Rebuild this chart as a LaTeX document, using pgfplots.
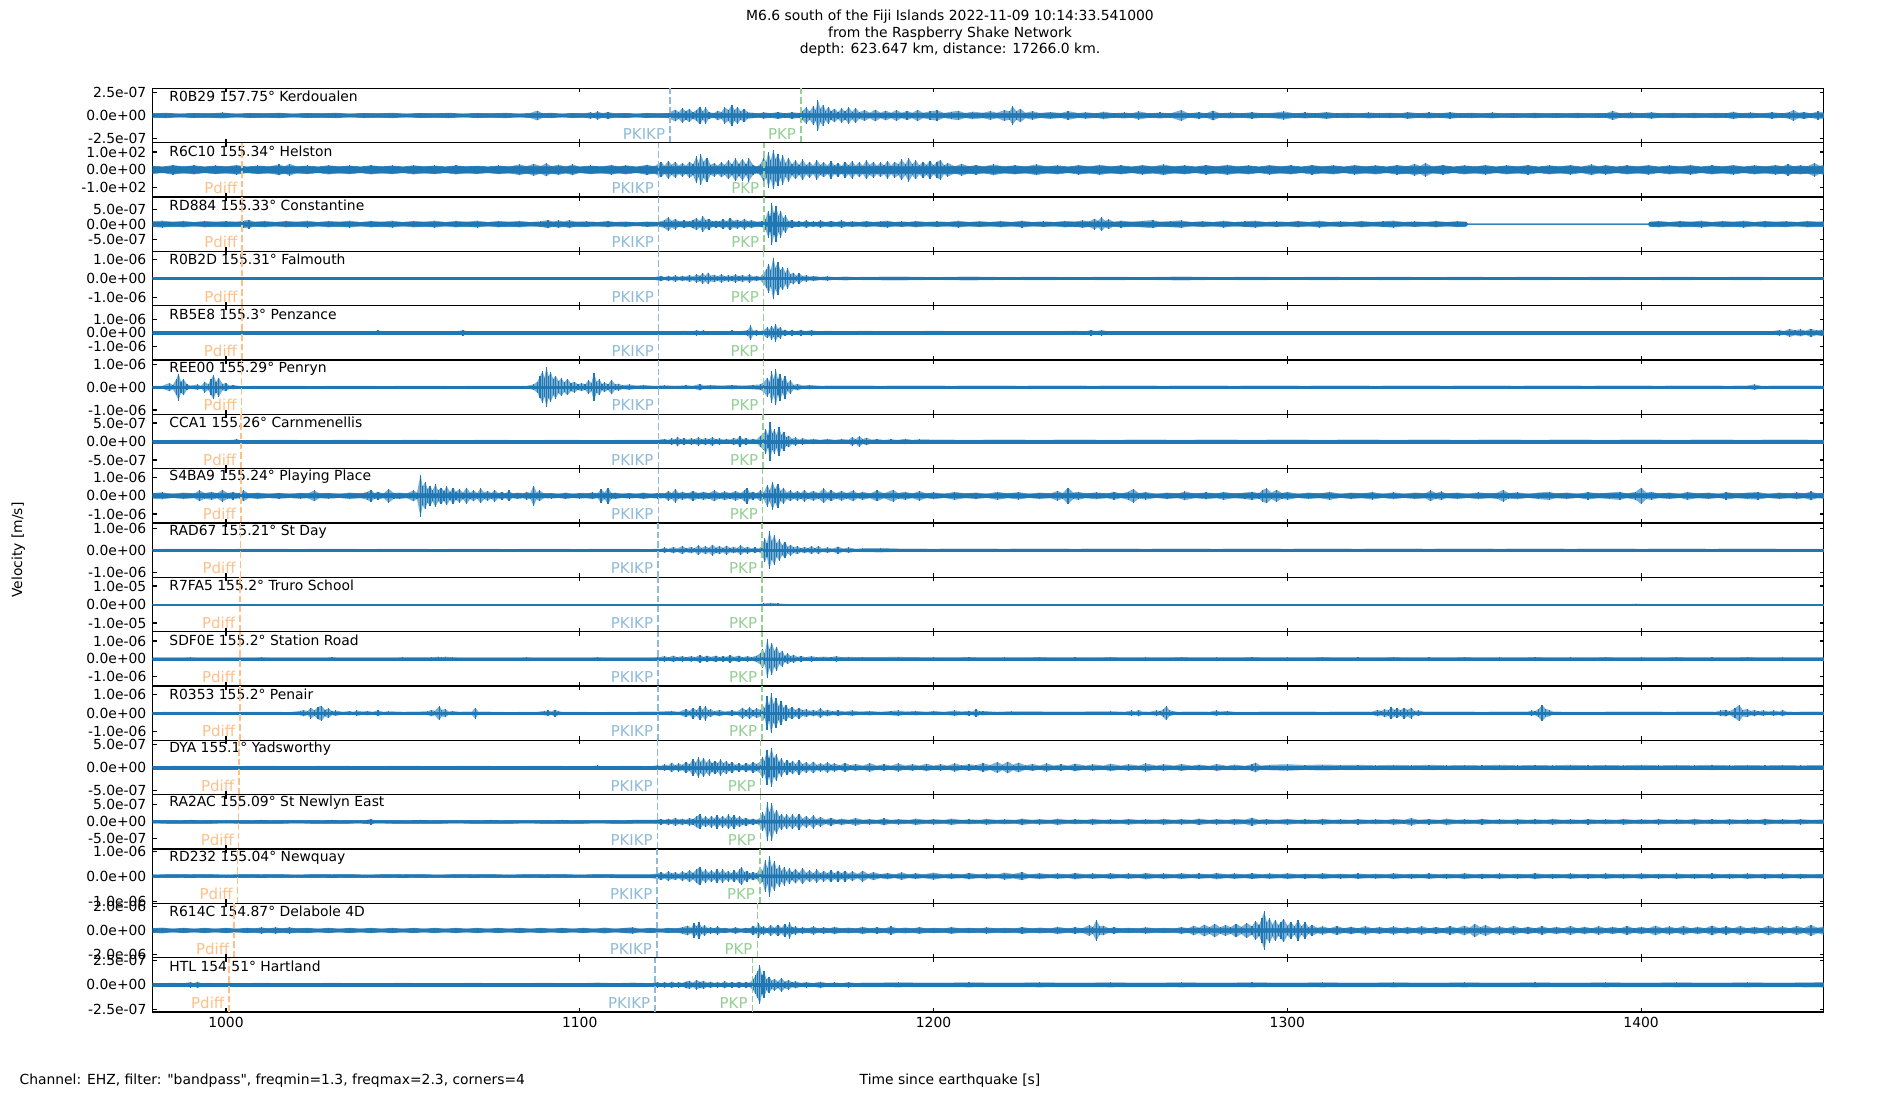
\documentclass[border=0pt]{standalone}
\usepackage{fontspec}
\setmainfont{DejaVu Sans}[Ligatures=TeXOff]
\usepackage{pgfplots}
\pgfplotsset{compat=1.18}
\usepackage{pgfplotstable}
\definecolor{c0}{HTML}{1F77B4}
\definecolor{cpd}{HTML}{FFBF86}
\definecolor{cpi}{HTML}{8FBBD9}
\definecolor{cpk}{HTML}{95CF95}
\newcommand{\fs}{\fontsize{10bp}{12bp}\selectfont}
\pgfplotsset{
  panel/.style={scale only axis, width=1203.3bp, height=39.12bp, anchor=south west,
    xmin=979.28, xmax=1451.64, ymin=-1, ymax=1,
    xtick={1000,1100,1200,1300,1400}, xticklabels={},
    tick align=inside, major tick length=2.9bp,
    axis line style={line width=0.8bp}, tick style={black, line width=0.8bp},
    ticklabel style={font=\fs}, yticklabel style={xshift=-1bp}, clip=true},
  panelextra/.style={},
}
\tikzset{phl/.style={anchor=east, inner sep=0pt, xshift=-3.3bp, font=\fontsize{10.8bp}{13bp}\selectfont},
  phd/.style={line width=1.1bp, dash pattern=on 4.8bp off 2.2bp}}
\newcommand{\panel}[9]{%
\begin{axis}[panel, at={(109.9bp,{63.36bp+(17-#1)*39.12bp})}, ytick={-#3,0,#3}, yticklabels={{-#4},{0.0e+00},{#4}}, panelextra]
\addplot[draw=none, fill=c0, fill opacity=0.6] table[x=t,y=a]{#2} \closedcycle;
\addplot[draw=none, fill=c0, fill opacity=0.6] table[x=t,y expr=-\thisrow{a}]{#2} \closedcycle;
\addplot[c0, line width=0.9bp, ycomb] table[x=t,y=a]{#2};
\addplot[c0, line width=0.9bp, ycomb] table[x=t,y expr=-\thisrow{a}]{#2};
\addplot[fill=c0, draw=c0, line width=0.3bp] table[x=t,y expr={min(\thisrow{a},#9)}]{#2} \closedcycle;
\addplot[fill=c0, draw=c0, line width=0.3bp] table[x=t,y expr={-min(\thisrow{a},#9)}]{#2} \closedcycle;
\node[anchor=west, inner sep=0pt, font=\fs] at (rel axis cs:0.0099,0.845) {#5};
\ifx\relax#6\relax\else
\draw[cpd, phd] (axis cs:#6,-1) -- (axis cs:#6,1);
\node[phl, text=cpd] at (axis cs:#6,-0.67) {Pdiff};
\fi
\draw[cpi, phd] (axis cs:#7,-1) -- (axis cs:#7,1);
\node[phl, text=cpi] at (axis cs:#7,-0.67) {PKIKP};
\draw[cpk, phd] (axis cs:#8,-1) -- (axis cs:#8,1);
\node[phl, text=cpk] at (axis cs:#8,-0.67) {PKP};
\end{axis}}

\pgfplotstableread[row sep=\\]{t a\\979 .07\\983 .1\\987 .06\\991 .09\\995 .07\\999 .11\\1003 .06\\1007 .09\\1011 .07\\1015 .1\\1019 .06\\1023 .09\\1027 .07\\1031 .1\\1035 .06\\1039 .09\\1043 .07\\1047 .1\\1051 .06\\1055 .09\\1059 .07\\1063 .1\\1067 .06\\1071 .09\\1075 .07\\1079 .1\\1083 .06\\1086 .09\\1088 .18\\1089.5 .08\\1092 .1\\1095 .06\\1098 .09\\1101 .07\\1103 .12\\1104 .08\\1105 .15\\1106.5 .08\\1108 .13\\1110 .07\\1113 .09\\1116 .06\\1119 .09\\1122 .07\\1125 .09\\1127 .22\\1128 .12\\1129 .28\\1130 .15\\1131 .25\\1132 .12\\1133 .2\\1134 .33\\1134.8 .15\\1135.6 .3\\1136.5 .12\\1138 .09\\1139 .18\\1140 .12\\1141 .3\\1142 .2\\1143 .38\\1143.8 .2\\1144.6 .32\\1145.5 .15\\1146.4 .25\\1147.5 .12\\1149 .1\\1150.5 .07\\1152 .12\\1154 .08\\1156 .13\\1158 .08\\1160 .12\\1162 .09\\1163 .18\\1164 .3\\1165 .15\\1166 .35\\1166.7 .2\\1167.3 .58\\1168 .25\\1168.8 .4\\1169.5 .18\\1170.3 .33\\1171 .15\\1172 .25\\1173 .12\\1174 .26\\1175 .15\\1176 .3\\1177 .14\\1178 .28\\1179 .12\\1180.5 .2\\1182 .1\\1183.5 .22\\1185 .1\\1186.5 .18\\1188 .1\\1189.5 .2\\1191 .1\\1192.5 .17\\1194 .1\\1195.5 .21\\1197 .1\\1199 .15\\1201 .19\\1203 .09\\1205 .14\\1207 .17\\1209 .09\\1211 .14\\1214 .1\\1216 .16\\1218 .1\\1220 .2\\1221.5 .15\\1222.3 .34\\1223.5 .15\\1224.5 .25\\1226 .1\\1228 .16\\1230 .09\\1233 .13\\1236 .09\\1238 .16\\1241 .09\\1243 .12\\1246 .08\\1248 .14\\1251 .08\\1254 .11\\1256 .08\\1258 .15\\1261 .08\\1264 .11\\1267 .08\\1270 .2\\1272 .08\\1275 .12\\1277 .08\\1279 .18\\1281 .08\\1284 .11\\1287 .08\\1290 .12\\1293 .08\\1296 .1\\1299 .15\\1302 .08\\1305 .11\\1308 .08\\1311 .13\\1314 .08\\1317 .1\\1320 .07\\1323 .11\\1326 .08\\1329 .1\\1332 .07\\1334 .13\\1337 .08\\1340 .11\\1343 .08\\1346 .12\\1349 .08\\1352 .1\\1355 .07\\1358 .11\\1361 .07\\1364 .09\\1367 .07\\1370 .1\\1373 .07\\1376 .09\\1379 .07\\1382 .1\\1385 .07\\1388 .09\\1390 .08\\1392 .17\\1394 .08\\1397 .11\\1400 .08\\1403 .12\\1406 .07\\1409 .1\\1412 .07\\1415 .1\\1418 .07\\1421 .1\\1424 .08\\1426 .14\\1428 .08\\1431 .11\\1434 .07\\1437 .12\\1440 .08\\1442 .13\\1443 .2\\1444.5 .1\\1446 .13\\1448 .08\\1450 .15\\1452 .1\\}\dA
\pgfplotstableread[row sep=\\]{t a\\979 .15\\982 .11\\985 .18\\988 .12\\991 .17\\994 .11\\997 .16\\1000 .12\\1003 .18\\1006 .11\\1009 .16\\1012 .12\\1015 .2\\1016.5 .13\\1018 .22\\1020 .12\\1023 .16\\1026 .11\\1029 .17\\1032 .12\\1035 .16\\1038 .11\\1041 .17\\1044 .12\\1047 .16\\1050 .11\\1053 .17\\1056 .12\\1059 .16\\1062 .11\\1065 .17\\1068 .12\\1071 .15\\1074 .11\\1077 .16\\1080 .12\\1083 .2\\1085 .13\\1087 .22\\1089 .14\\1090.5 .24\\1092 .13\\1094 .19\\1096 .12\\1098 .2\\1100 .11\\1103 .16\\1106 .12\\1109 .18\\1111 .12\\1113 .17\\1116 .11\\1119 .19\\1121 .13\\1123 .28\\1124 .15\\1125 .33\\1126 .18\\1127 .3\\1128 .15\\1129 .25\\1130 .15\\1131 .3\\1132 .2\\1133 .5\\1133.6 .25\\1134.2 .57\\1135 .3\\1136 .45\\1137 .18\\1138 .25\\1139 .15\\1140 .28\\1141 .18\\1142 .35\\1143 .2\\1144 .42\\1145 .22\\1146 .4\\1147 .2\\1147.8 .43\\1149 .18\\1150 .12\\1151 .2\\1152 .45\\1152.7 .3\\1153.3 .66\\1154 .35\\1154.7 .72\\1155.4 .4\\1156 .6\\1156.7 .3\\1157.4 .55\\1158.2 .25\\1159 .45\\1160 .2\\1161 .35\\1162 .18\\1163 .38\\1164 .17\\1165 .3\\1166 .15\\1167 .37\\1168 .18\\1169 .28\\1170 .15\\1171 .32\\1172 .16\\1173 .25\\1174 .14\\1175 .3\\1176 .16\\1177 .33\\1178 .15\\1179 .28\\1180 .15\\1181 .35\\1182 .18\\1183 .3\\1184 .15\\1185 .27\\1186 .16\\1187 .33\\1188 .15\\1189 .3\\1190 .2\\1191 .38\\1192 .2\\1193 .43\\1194 .2\\1195 .35\\1196 .16\\1197 .3\\1198 .18\\1199 .34\\1200 .17\\1201 .3\\1202 .36\\1203 .16\\1204 .25\\1206 .13\\1208 .22\\1210 .13\\1212 .18\\1214 .12\\1217 .2\\1220 .12\\1223 .17\\1226 .12\\1229 .2\\1232 .12\\1235 .17\\1238 .11\\1241 .18\\1244 .12\\1247 .19\\1250 .12\\1253 .17\\1256 .11\\1259 .18\\1262 .12\\1265 .2\\1268 .12\\1271 .17\\1274 .11\\1277 .18\\1280 .12\\1283 .19\\1286 .12\\1289 .17\\1292 .11\\1295 .18\\1298 .12\\1301 .17\\1304 .11\\1307 .18\\1310 .12\\1313 .17\\1316 .11\\1319 .18\\1322 .12\\1325 .17\\1328 .11\\1331 .18\\1334 .13\\1336 .22\\1337.5 .14\\1339 .25\\1341 .12\\1344 .18\\1347 .11\\1350 .17\\1353 .12\\1356 .18\\1359 .11\\1362 .17\\1365 .12\\1368 .18\\1371 .11\\1374 .17\\1377 .12\\1380 .18\\1383 .11\\1386 .2\\1388 .12\\1390 .18\\1393 .11\\1396 .17\\1399 .12\\1402 .18\\1405 .11\\1408 .17\\1411 .12\\1414 .18\\1417 .11\\1420 .17\\1423 .12\\1426 .18\\1429 .11\\1432 .17\\1435 .12\\1438 .18\\1440 .13\\1441.5 .22\\1443 .13\\1445 .17\\1447 .13\\1449 .25\\1450.5 .15\\1452 .2\\}\dB
\pgfplotstableread[row sep=\\]{t a\\979 .1\\982 .13\\985 .08\\988 .12\\991 .07\\994 .12\\997 .08\\1000 .11\\1003 .08\\1005 .13\\1006.5 .16\\1008 .08\\1011 .12\\1014 .07\\1017 .12\\1020 .08\\1023 .13\\1026 .07\\1029 .12\\1032 .08\\1035 .13\\1038 .07\\1041 .12\\1044 .08\\1047 .13\\1050 .07\\1053 .12\\1056 .08\\1059 .13\\1062 .07\\1065 .12\\1068 .08\\1071 .13\\1074 .07\\1077 .12\\1080 .08\\1083 .12\\1086 .07\\1089 .1\\1091 .15\\1092.5 .09\\1094 .14\\1095.5 .09\\1097 .15\\1099 .08\\1102 .1\\1105 .07\\1108 .12\\1110 .07\\1113 .09\\1116 .06\\1119 .09\\1122 .07\\1124 .15\\1125 .25\\1126 .12\\1127 .2\\1128 .1\\1129.5 .14\\1131 .1\\1132 .15\\1133 .22\\1134 .12\\1134.8 .3\\1135.6 .15\\1136.5 .2\\1137.5 .1\\1138.5 .13\\1139.5 .1\\1140.5 .18\\1141.5 .1\\1142.5 .22\\1143.5 .12\\1144.5 .17\\1145.5 .1\\1146.5 .2\\1147.5 .1\\1148.5 .15\\1150 .08\\1151.5 .1\\1152.5 .2\\1153.3 .5\\1153.8 .3\\1154.3 .78\\1154.9 .4\\1155.5 .65\\1156.2 .3\\1156.8 .5\\1157.5 .22\\1158.2 .32\\1159 .12\\1160 .15\\1161 .08\\1162 .1\\1163 .07\\1164 .15\\1165 .07\\1166 .1\\1167 .07\\1168 .14\\1169.5 .07\\1171 .12\\1172.5 .07\\1174 .14\\1175.5 .07\\1177 .1\\1179 .07\\1181 .12\\1183 .07\\1185 .1\\1187 .13\\1189 .07\\1191 .1\\1193 .07\\1195 .12\\1198 .07\\1201 .1\\1204 .07\\1207 .13\\1210 .07\\1213 .11\\1216 .07\\1219 .12\\1222 .07\\1225 .13\\1228 .07\\1231 .1\\1234 .07\\1237 .12\\1240 .09\\1242 .14\\1244 .1\\1245.5 .2\\1246.5 .12\\1247.5 .25\\1248.5 .12\\1249.5 .18\\1251 .08\\1253 .13\\1256 .08\\1259 .12\\1262 .15\\1264 .08\\1267 .11\\1270 .14\\1273 .07\\1276 .11\\1279 .07\\1282 .13\\1285 .07\\1288 .1\\1291 .13\\1294 .07\\1297 .1\\1300 .07\\1303 .12\\1306 .07\\1309 .13\\1312 .07\\1315 .1\\1318 .07\\1321 .12\\1324 .07\\1327 .1\\1330 .13\\1333 .07\\1336 .1\\1339 .07\\1342 .12\\1345 .07\\1348 .11\\1350.5 .08\\1351 .012\\1402 .012\\1402.5 .08\\1405 .12\\1408 .07\\1411 .12\\1414 .08\\1417 .13\\1420 .07\\1423 .12\\1426 .08\\1429 .13\\1432 .07\\1435 .12\\1438 .08\\1441 .11\\1444 .07\\1447 .12\\1450 .08\\1452 .11\\}\dC
\pgfplotstableread[row sep=\\]{t a\\979 .04\\990 .05\\1000 .04\\1010 .05\\1020 .04\\1030 .05\\1040 .04\\1050 .05\\1060 .04\\1070 .05\\1080 .04\\1090 .05\\1100 .04\\1110 .05\\1118 .04\\1121 .05\\1123 .1\\1124 .05\\1125 .1\\1126 .06\\1127 .12\\1128 .06\\1129 .1\\1130 .07\\1131 .13\\1132 .07\\1133 .15\\1134 .1\\1134.8 .2\\1135.5 .1\\1136.3 .22\\1137 .1\\1138 .14\\1139 .08\\1140 .15\\1141 .08\\1142 .12\\1143 .08\\1144 .15\\1145 .08\\1146 .13\\1147 .07\\1148 .15\\1149 .07\\1150 .1\\1151 .06\\1152 .2\\1152.8 .35\\1153.4 .55\\1154 .3\\1154.7 .77\\1155.3 .4\\1156 .6\\1156.7 .3\\1157.4 .43\\1158.1 .22\\1158.8 .38\\1159.6 .15\\1160.4 .22\\1161.2 .1\\1162 .2\\1163 .09\\1164 .12\\1165 .07\\1166 .1\\1168 .06\\1170 .08\\1172 .05\\1175 .07\\1178 .05\\1181 .06\\1190 .07\\1200 .05\\1210 .07\\1220 .05\\1230 .06\\1240 .05\\1250 .06\\1260 .05\\1270 .07\\1280 .05\\1290 .06\\1300 .05\\1310 .06\\1320 .05\\1330 .06\\1340 .05\\1350 .06\\1360 .05\\1370 .06\\1380 .05\\1390 .06\\1400 .05\\1410 .06\\1420 .05\\1430 .06\\1440 .05\\1452 .05\\}\dD
\pgfplotstableread[row sep=\\]{t a\\979 .05\\990 .06\\1000 .05\\1010 .06\\1020 .05\\1030 .06\\1040 .05\\1042 .06\\1043 .09\\1044 .05\\1055 .06\\1064 .05\\1066 .07\\1067 .1\\1068 .06\\1080 .05\\1090 .06\\1100 .05\\1110 .06\\1120 .05\\1125 .06\\1130 .07\\1132 .05\\1133 .1\\1134 .06\\1135 .09\\1136 .05\\1140 .06\\1142 .05\\1143 .09\\1144 .05\\1146 .07\\1147.5 .1\\1148.3 .27\\1149 .08\\1150 .1\\1151 .06\\1152 .1\\1153 .2\\1153.6 .12\\1154.2 .26\\1154.8 .15\\1155.3 .32\\1156 .15\\1156.7 .22\\1157.4 .08\\1158 .12\\1159 .06\\1160 .1\\1161 .06\\1162.5 .1\\1164 .06\\1165.5 .1\\1167 .06\\1170 .07\\1175 .06\\1180 .07\\1190 .06\\1200 .07\\1210 .06\\1220 .05\\1230 .06\\1240 .07\\1243 .06\\1244.5 .1\\1246 .06\\1247.5 .1\\1249 .06\\1260 .05\\1270 .06\\1280 .05\\1290 .06\\1300 .05\\1310 .06\\1320 .05\\1330 .06\\1340 .05\\1350 .06\\1360 .05\\1370 .06\\1380 .05\\1390 .06\\1400 .05\\1410 .06\\1420 .05\\1430 .06\\1437 .06\\1439 .1\\1440.5 .07\\1442 .15\\1443.5 .09\\1445 .13\\1446.5 .08\\1448 .15\\1449.5 .09\\1451 .12\\1452 .1\\}\dE
\pgfplotstableread[row sep=\\]{t a\\979 .04\\982 .05\\984 .15\\985 .08\\986 .3\\986.6 .5\\987.3 .2\\988 .3\\989 .1\\990 .06\\992 .1\\993 .05\\994 .2\\995 .1\\995.8 .3\\996.5 .44\\997.2 .2\\998 .35\\999 .12\\1000 .15\\1001 .06\\1002 .08\\1004 .04\\1015 .05\\1025 .04\\1035 .05\\1045 .04\\1055 .05\\1065 .04\\1075 .05\\1085 .05\\1087 .1\\1088 .2\\1088.8 .4\\1089.5 .6\\1090 .35\\1090.6 .74\\1091.2 .4\\1091.8 .55\\1092.5 .3\\1093.2 .42\\1094 .22\\1094.8 .33\\1095.6 .18\\1096.5 .3\\1097.5 .15\\1098.5 .2\\1099.5 .1\\1100.5 .15\\1101.5 .1\\1102.5 .25\\1103.3 .15\\1104 .52\\1104.8 .2\\1105.5 .3\\1106.3 .12\\1107 .18\\1108 .1\\1109 .27\\1110 .1\\1111 .13\\1112 .07\\1114 .1\\1116 .06\\1118 .08\\1121 .05\\1124 .07\\1127 .05\\1130 .07\\1132 .05\\1134 .12\\1135 .06\\1137 .08\\1140 .06\\1143 .08\\1146 .06\\1149 .08\\1151 .1\\1152 .18\\1153 .35\\1153.6 .2\\1154.2 .6\\1154.8 .3\\1155.4 .67\\1156 .3\\1156.6 .5\\1157.3 .22\\1158 .42\\1158.8 .15\\1159.5 .25\\1160.5 .08\\1161.5 .12\\1163 .06\\1165 .08\\1168 .05\\1175 .06\\1185 .05\\1195 .06\\1205 .05\\1215 .06\\1225 .05\\1235 .06\\1245 .05\\1255 .06\\1265 .05\\1275 .06\\1285 .05\\1295 .06\\1305 .05\\1315 .06\\1325 .05\\1335 .06\\1345 .05\\1355 .06\\1365 .05\\1375 .06\\1385 .05\\1395 .06\\1405 .05\\1415 .06\\1425 .05\\1430 .06\\1432 .1\\1434 .05\\1445 .06\\1452 .05\\}\dF
\pgfplotstableread[row sep=\\]{t a\\979 .05\\990 .06\\1000 .05\\1002 .06\\1003 .09\\1004 .05\\1015 .06\\1025 .05\\1035 .06\\1045 .05\\1055 .06\\1065 .05\\1075 .06\\1085 .05\\1095 .06\\1105 .05\\1115 .06\\1122 .06\\1124 .1\\1125 .06\\1126 .12\\1127 .08\\1127.6 .18\\1128.4 .08\\1129.5 .12\\1130.5 .07\\1131.5 .12\\1132.5 .08\\1133.5 .15\\1134.5 .08\\1135.5 .13\\1136.5 .08\\1137.5 .16\\1138.5 .08\\1139.5 .12\\1140.5 .07\\1141.5 .1\\1142.5 .07\\1143.5 .13\\1144.5 .09\\1145.3 .2\\1146 .09\\1147 .12\\1148 .07\\1149 .1\\1150 .07\\1151 .2\\1152 .3\\1152.6 .45\\1153.2 .25\\1153.8 .7\\1154.4 .3\\1155 .45\\1155.6 .25\\1156.3 .55\\1157 .25\\1157.7 .35\\1158.4 .15\\1159 .22\\1160 .1\\1161 .15\\1162 .07\\1163 .12\\1164.5 .07\\1166 .1\\1168 .06\\1170 .1\\1172 .06\\1174 .09\\1176 .07\\1177 .16\\1178 .08\\1179 .2\\1180 .09\\1181 .14\\1182.5 .07\\1184 .09\\1186 .06\\1188 .08\\1190 .06\\1192 .1\\1194 .06\\1196 .08\\1200 .07\\1210 .06\\1220 .07\\1230 .06\\1240 .07\\1250 .06\\1260 .07\\1270 .06\\1280 .07\\1290 .06\\1300 .07\\1310 .06\\1320 .07\\1330 .06\\1340 .07\\1350 .06\\1360 .07\\1370 .06\\1380 .07\\1390 .06\\1400 .07\\1410 .06\\1420 .07\\1430 .06\\1440 .07\\1452 .06\\}\dG
\pgfplotstableread[row sep=\\]{t a\\979 .1\\982 .13\\985 .07\\988 .12\\991 .08\\992.5 .2\\994 .1\\996 .15\\997.5 .09\\999 .22\\1000.5 .1\\1002 .14\\1003.5 .09\\1005 .2\\1006.5 .08\\1009 .12\\1012 .07\\1015 .11\\1018 .07\\1021 .11\\1023 .08\\1025 .2\\1026.5 .08\\1029 .11\\1032 .07\\1035 .12\\1038 .08\\1040 .15\\1041 .22\\1042 .1\\1043 .15\\1044.5 .08\\1046 .25\\1047.5 .1\\1049 .12\\1051 .08\\1053 .2\\1054 .12\\1055 .78\\1055.6 .35\\1056.3 .5\\1057 .25\\1057.7 .38\\1058.4 .2\\1059.2 .42\\1060 .2\\1060.8 .3\\1061.6 .18\\1062.4 .35\\1063.3 .15\\1064.2 .3\\1065 .15\\1066 .25\\1067 .12\\1068 .3\\1069 .12\\1070 .2\\1071 .1\\1072 .28\\1073 .12\\1074 .18\\1075 .1\\1076 .22\\1077 .09\\1078 .15\\1079 .08\\1080 .2\\1081 .08\\1082.5 .12\\1084 .08\\1085 .15\\1086 .1\\1087 .38\\1087.8 .12\\1088.6 .2\\1090 .08\\1092 .1\\1094 .07\\1096 .12\\1098 .07\\1100 .1\\1102 .08\\1103.5 .13\\1105 .08\\1106 .25\\1107 .12\\1108 .3\\1109 .1\\1110 .12\\1112 .07\\1114 .1\\1116 .07\\1118 .12\\1120 .07\\1122 .1\\1124 .08\\1125 .18\\1126 .1\\1127 .25\\1128 .1\\1129 .15\\1130.5 .09\\1132 .18\\1133.5 .1\\1135 .15\\1136.5 .1\\1138 .2\\1139.5 .1\\1141 .16\\1142.5 .1\\1144 .18\\1145.5 .1\\1146.5 .2\\1147.3 .3\\1148 .12\\1149 .15\\1150 .09\\1151 .2\\1152 .12\\1153 .4\\1153.7 .2\\1154.5 .52\\1155.2 .25\\1156 .45\\1156.8 .18\\1157.6 .3\\1158.5 .12\\1159.5 .2\\1160.5 .1\\1161.5 .18\\1162.5 .1\\1163.5 .22\\1164.5 .1\\1166 .18\\1167.5 .1\\1169 .27\\1170 .12\\1171 .2\\1172.5 .1\\1174 .18\\1175.5 .1\\1177.3 .2\\1178.5 .09\\1180 .15\\1182 .08\\1184 .2\\1186 .09\\1188.6 .22\\1190 .1\\1192 .15\\1194 .08\\1196 .18\\1198 .08\\1200 .13\\1203 .07\\1206 .15\\1209 .08\\1212 .12\\1215 .07\\1218 .15\\1221 .08\\1224 .14\\1227 .07\\1230 .12\\1233 .08\\1235 .18\\1236.5 .1\\1238 .3\\1239.5 .12\\1241 .15\\1243 .08\\1246 .13\\1249 .08\\1251 .15\\1253 .08\\1255 .15\\1256.5 .25\\1258 .1\\1260 .14\\1263 .07\\1266 .12\\1269 .08\\1271 .16\\1274 .08\\1277 .13\\1280 .08\\1282 .15\\1285 .08\\1288 .12\\1290 .15\\1292 .1\\1293 .22\\1294.2 .27\\1295.5 .12\\1297 .22\\1298.5 .1\\1300 .15\\1303 .07\\1306 .12\\1309 .08\\1312 .15\\1315 .07\\1318 .12\\1321 .08\\1324 .14\\1327 .07\\1330 .13\\1333 .07\\1336 .12\\1339 .09\\1340.5 .2\\1342 .1\\1343.5 .16\\1345 .08\\1348 .12\\1351 .07\\1354 .13\\1357 .08\\1359.5 .12\\1361 .22\\1362.5 .1\\1365 .13\\1368 .07\\1371 .12\\1374 .15\\1376 .08\\1379 .12\\1382 .07\\1385 .14\\1388 .08\\1391 .12\\1394 .15\\1396 .08\\1398.5 .15\\1400 .3\\1401.5 .12\\1403 .15\\1405 .08\\1408 .12\\1411 .07\\1413 .15\\1416 .08\\1419 .12\\1422 .07\\1424 .14\\1427 .08\\1430 .12\\1433 .14\\1436 .07\\1439 .12\\1442 .08\\1444 .13\\1446 .08\\1448 .16\\1450 .08\\1452 .12\\}\dH
\pgfplotstableread[row sep=\\]{t a\\979 .04\\990 .05\\1000 .04\\1010 .05\\1020 .04\\1030 .05\\1040 .04\\1050 .05\\1060 .04\\1070 .05\\1080 .04\\1090 .05\\1100 .04\\1110 .05\\1120 .04\\1123 .05\\1124 .1\\1125 .05\\1126.5 .12\\1127.5 .06\\1129 .15\\1130 .07\\1131.5 .12\\1132.5 .07\\1133.5 .18\\1134.5 .08\\1135.5 .15\\1136.5 .08\\1137.5 .2\\1138.5 .09\\1139.5 .15\\1140.5 .08\\1141.5 .17\\1142.5 .08\\1143.5 .12\\1144.5 .08\\1145.5 .18\\1146.5 .08\\1147.5 .13\\1148.5 .06\\1149.5 .1\\1150.5 .06\\1151.5 .15\\1152.3 .45\\1152.9 .25\\1153.6 .7\\1154.3 .35\\1155 .55\\1155.7 .25\\1156.4 .4\\1157.2 .18\\1158 .3\\1158.8 .12\\1159.6 .2\\1160.5 .1\\1161.5 .15\\1162.5 .07\\1163.5 .12\\1164.5 .07\\1165.5 .15\\1166.5 .07\\1167.5 .15\\1168.5 .06\\1170 .1\\1171.5 .06\\1173 .13\\1174.5 .06\\1176 .1\\1178 .05\\1180 .07\\1185 .08\\1190 .06\\1200 .05\\1210 .06\\1220 .05\\1230 .06\\1240 .05\\1250 .06\\1260 .05\\1270 .06\\1280 .05\\1290 .06\\1300 .05\\1310 .06\\1320 .05\\1330 .06\\1340 .05\\1350 .06\\1360 .05\\1370 .06\\1380 .05\\1390 .06\\1400 .05\\1410 .06\\1420 .05\\1430 .06\\1440 .05\\1452 .05\\}\dI
\pgfplotstableread[row sep=\\]{t a\\979 .015\\1150 .015\\1152 .04\\1154 .06\\1156 .04\\1158 .02\\1160 .015\\1397 .015\\1398.6 .03\\1400 .015\\1452 .015\\}\dJ
\pgfplotstableread[row sep=\\]{t a\\979 .04\\990 .05\\1000 .04\\1010 .05\\1020 .04\\1030 .05\\1040 .04\\1050 .05\\1058 .05\\1060 .08\\1061 .05\\1062 .08\\1064 .05\\1075 .04\\1085 .05\\1095 .04\\1105 .05\\1115 .04\\1122 .05\\1124 .1\\1125 .05\\1126.5 .12\\1127.5 .06\\1129 .1\\1130 .06\\1131.5 .1\\1132.5 .06\\1134 .14\\1135 .07\\1136 .12\\1137 .07\\1138.5 .12\\1139.5 .06\\1140.5 .1\\1141.5 .07\\1142.5 .14\\1143.5 .07\\1145 .12\\1146 .06\\1147.5 .1\\1148.5 .06\\1150 .12\\1151 .2\\1151.7 .35\\1152.3 .2\\1153 .72\\1153.6 .35\\1154.3 .6\\1155 .3\\1155.7 .45\\1156.4 .2\\1157.2 .3\\1158 .12\\1158.8 .2\\1159.6 .1\\1160.5 .15\\1161.5 .07\\1162.5 .1\\1164 .06\\1165.5 .1\\1167 .06\\1169 .08\\1171 .06\\1172.5 .1\\1174 .06\\1176 .07\\1180 .06\\1190 .07\\1200 .05\\1210 .06\\1220 .05\\1230 .06\\1240 .05\\1250 .06\\1260 .05\\1270 .06\\1280 .05\\1290 .06\\1300 .05\\1310 .06\\1320 .05\\1330 .06\\1340 .05\\1350 .06\\1360 .05\\1370 .06\\1380 .05\\1390 .06\\1400 .05\\1410 .06\\1420 .05\\1430 .06\\1440 .05\\1452 .05\\}\dK
\pgfplotstableread[row sep=\\]{t a\\979 .04\\990 .05\\1000 .04\\1010 .05\\1018 .04\\1021 .08\\1022 .12\\1023 .07\\1024 .2\\1025 .1\\1026 .22\\1027 .28\\1028 .12\\1029 .18\\1030 .07\\1031 .1\\1033 .05\\1035 .08\\1036 .05\\1037 .1\\1038.5 .06\\1040 .08\\1041.5 .05\\1043 .1\\1044.5 .05\\1046 .07\\1050 .05\\1055 .06\\1057 .07\\1058 .12\\1059 .08\\1060.3 .26\\1061 .12\\1062 .15\\1063 .06\\1064 .08\\1066 .05\\1069.5 .06\\1070.5 .2\\1071.3 .06\\1080 .04\\1088 .05\\1090 .08\\1091 .1\\1092 .06\\1093 .13\\1094 .07\\1095 .05\\1105 .04\\1115 .05\\1122 .06\\1126 .08\\1128 .05\\1130 .15\\1131 .08\\1132 .2\\1133 .1\\1134 .25\\1134.8 .12\\1135.5 .28\\1136.3 .1\\1137 .15\\1138 .07\\1139.5 .12\\1141 .06\\1143 .1\\1144.5 .06\\1146 .2\\1147 .1\\1148 .22\\1149 .1\\1150 .18\\1151 .12\\1151.7 .3\\1152.3 .18\\1152.9 .62\\1153.5 .3\\1154.1 .74\\1154.8 .35\\1155.5 .55\\1156.2 .25\\1156.9 .45\\1157.6 .2\\1158.3 .3\\1159 .15\\1160 .22\\1161 .12\\1162 .2\\1163 .1\\1164 .15\\1165 .08\\1166 .12\\1167 .08\\1168 .18\\1169 .08\\1170 .12\\1171.5 .07\\1173 .1\\1175 .06\\1177 .1\\1179 .06\\1182 .08\\1185 .05\\1188 .08\\1190 .1\\1192 .06\\1195 .08\\1198 .05\\1200 .08\\1203 .05\\1206 .1\\1208 .06\\1210 .09\\1211 .06\\1212 .14\\1213 .07\\1214 .08\\1218 .05\\1222 .07\\1232 .06\\1242 .06\\1250 .07\\1254 .05\\1256 .1\\1257 .06\\1258 .12\\1259 .06\\1261 .05\\1263 .1\\1264 .07\\1265 .15\\1265.8 .26\\1266.6 .12\\1267.5 .08\\1269 .05\\1275 .06\\1278 .05\\1280 .1\\1281 .06\\1283 .08\\1285 .05\\1290 .05\\1300 .06\\1310 .05\\1320 .06\\1324 .06\\1325.5 .12\\1326.5 .08\\1327.5 .15\\1328.5 .1\\1329.3 .22\\1330.2 .12\\1331 .18\\1332 .1\\1333 .2\\1334 .12\\1335 .2\\1336 .08\\1337 .1\\1338.5 .06\\1345 .06\\1355 .05\\1365 .06\\1368 .06\\1369 .1\\1370 .07\\1371 .15\\1372 .3\\1373 .15\\1374 .12\\1375 .06\\1378 .05\\1388 .05\\1398 .06\\1408 .05\\1418 .06\\1421 .05\\1422.5 .1\\1424 .12\\1425 .07\\1426.5 .18\\1427.7 .3\\1428.7 .12\\1430 .15\\1431 .08\\1432 .12\\1433 .07\\1434.5 .1\\1436 .06\\1437.5 .1\\1439 .06\\1440 .12\\1441 .06\\1443 .05\\1452 .06\\}\dL
\pgfplotstableread[row sep=\\]{t a\\979 .05\\990 .06\\1000 .05\\1010 .06\\1020 .05\\1030 .06\\1040 .05\\1050 .06\\1060 .05\\1070 .06\\1080 .05\\1090 .06\\1100 .05\\1104 .05\\1105 .08\\1106 .05\\1115 .06\\1120 .05\\1122 .08\\1123 .06\\1124 .12\\1125 .07\\1126 .18\\1127 .08\\1128 .15\\1129 .1\\1130 .2\\1131 .12\\1132 .3\\1132.8 .18\\1133.5 .37\\1134.2 .2\\1135 .35\\1135.8 .18\\1136.6 .3\\1137.4 .15\\1138.2 .25\\1139 .15\\1139.8 .3\\1140.6 .15\\1141.4 .25\\1142.2 .12\\1143 .2\\1144 .1\\1145 .15\\1146 .08\\1147 .17\\1148 .1\\1149 .2\\1150 .12\\1151 .22\\1151.6 .4\\1152.2 .25\\1152.9 .66\\1153.5 .35\\1154.2 .72\\1154.9 .35\\1155.6 .5\\1156.3 .22\\1157 .35\\1157.8 .15\\1158.6 .28\\1159.4 .15\\1160.2 .25\\1161 .12\\1162 .28\\1163 .12\\1164 .2\\1165 .1\\1166 .22\\1167 .1\\1168 .15\\1169 .1\\1170 .2\\1171 .1\\1172 .15\\1173.5 .08\\1175 .17\\1176.5 .08\\1178 .13\\1180 .07\\1182 .16\\1184 .07\\1186 .12\\1188 .07\\1190 .15\\1192 .07\\1194 .12\\1196 .07\\1198 .14\\1200 .07\\1202 .12\\1204 .07\\1206 .15\\1208 .08\\1210 .12\\1212 .08\\1214 .16\\1216 .09\\1218 .2\\1219.5 .1\\1221 .22\\1222.5 .1\\1224 .18\\1226 .08\\1228 .13\\1230 .07\\1232 .15\\1234 .07\\1236 .12\\1238 .07\\1240 .14\\1243 .07\\1245 .12\\1248 .07\\1250 .14\\1253 .07\\1255 .12\\1258 .07\\1260 .15\\1263 .07\\1265 .12\\1268 .07\\1270 .13\\1273 .07\\1275 .11\\1278 .06\\1280 .13\\1283 .06\\1285 .11\\1288 .06\\1290 .12\\1291 .18\\1292.5 .07\\1295 .1\\1300 .12\\1305 .09\\1310 .11\\1315 .09\\1320 .1\\1325 .08\\1330 .1\\1335 .08\\1340 .1\\1345 .08\\1350 .09\\1355 .08\\1360 .1\\1365 .08\\1370 .09\\1375 .08\\1380 .1\\1385 .08\\1390 .09\\1395 .08\\1400 .1\\1405 .08\\1410 .09\\1415 .08\\1420 .1\\1425 .08\\1430 .09\\1435 .08\\1440 .09\\1445 .08\\1452 .09\\}\dM
\pgfplotstableread[row sep=\\]{t a\\979 .05\\990 .06\\1000 .05\\1010 .06\\1020 .05\\1030 .06\\1038 .05\\1040 .07\\1041 .1\\1042 .05\\1055 .06\\1065 .05\\1075 .06\\1085 .05\\1095 .06\\1105 .05\\1115 .06\\1121 .06\\1123 .1\\1124 .06\\1125 .12\\1126 .07\\1127 .15\\1128 .08\\1129 .12\\1130 .07\\1131 .14\\1132 .1\\1133 .2\\1134 .27\\1134.8 .12\\1135.6 .2\\1136.4 .1\\1137.2 .22\\1138 .12\\1138.8 .25\\1139.6 .12\\1140.4 .22\\1141.2 .12\\1142 .27\\1142.8 .14\\1143.6 .25\\1144.4 .12\\1145.2 .2\\1146 .1\\1147 .15\\1148 .08\\1149 .12\\1150 .07\\1151 .15\\1151.7 .35\\1152.3 .2\\1153 .72\\1153.6 .35\\1154.3 .7\\1155 .3\\1155.7 .45\\1156.4 .2\\1157.1 .3\\1157.8 .15\\1158.5 .28\\1159.3 .14\\1160.1 .28\\1161 .14\\1162 .3\\1163 .12\\1164 .22\\1165 .1\\1166 .25\\1167 .1\\1168 .18\\1169.5 .08\\1171 .15\\1172.5 .07\\1174 .12\\1176 .07\\1178 .14\\1180 .07\\1182 .1\\1184 .06\\1186 .13\\1188 .06\\1190 .1\\1193 .06\\1195 .12\\1198 .06\\1200 .1\\1203 .06\\1205 .12\\1208 .06\\1210 .09\\1213 .06\\1215 .11\\1218 .06\\1220 .09\\1223 .06\\1225 .12\\1228 .06\\1230 .1\\1233 .06\\1235 .12\\1238 .06\\1240 .09\\1243 .06\\1245 .11\\1248 .06\\1250 .09\\1253 .06\\1255 .11\\1258 .06\\1260 .09\\1263 .06\\1265 .11\\1268 .06\\1270 .1\\1273 .06\\1275 .12\\1278 .06\\1280 .1\\1283 .06\\1285 .11\\1288 .08\\1290 .15\\1292 .07\\1294 .1\\1297 .06\\1300 .11\\1303 .06\\1305 .09\\1308 .06\\1310 .11\\1313 .06\\1315 .09\\1318 .06\\1320 .1\\1323 .06\\1325 .09\\1328 .06\\1330 .11\\1333 .07\\1335 .14\\1337 .07\\1340 .1\\1343 .06\\1345 .12\\1348 .06\\1350 .09\\1353 .06\\1355 .11\\1358 .06\\1360 .09\\1363 .06\\1365 .1\\1368 .06\\1370 .09\\1373 .06\\1375 .11\\1378 .06\\1380 .09\\1383 .06\\1385 .1\\1388 .06\\1390 .09\\1393 .06\\1395 .11\\1398 .06\\1400 .09\\1403 .06\\1405 .1\\1408 .06\\1410 .09\\1413 .06\\1415 .11\\1418 .06\\1420 .09\\1423 .06\\1425 .1\\1428 .06\\1430 .09\\1433 .06\\1435 .11\\1438 .06\\1440 .09\\1443 .06\\1445 .1\\1448 .06\\1452 .09\\}\dN
\pgfplotstableread[row sep=\\]{t a\\979 .05\\990 .06\\1000 .05\\1010 .06\\1020 .05\\1030 .06\\1040 .05\\1050 .06\\1060 .05\\1070 .06\\1080 .05\\1090 .06\\1100 .05\\1110 .06\\1120 .06\\1122 .1\\1123 .15\\1124 .08\\1125 .18\\1126 .1\\1127 .15\\1128 .08\\1129 .18\\1130 .1\\1131 .22\\1132 .12\\1133 .25\\1134 .34\\1134.8 .15\\1135.6 .25\\1136.4 .12\\1137.2 .22\\1138 .12\\1138.8 .25\\1139.6 .12\\1140.4 .25\\1141.2 .12\\1142 .2\\1142.8 .1\\1143.6 .22\\1144.4 .12\\1145.2 .25\\1145.8 .34\\1146.5 .15\\1147.3 .2\\1148 .1\\1149 .15\\1150 .1\\1151 .3\\1151.7 .2\\1152.4 .6\\1153 .3\\1153.6 .76\\1154.3 .35\\1155 .55\\1155.7 .25\\1156.4 .4\\1157.1 .2\\1157.8 .35\\1158.5 .15\\1159.2 .3\\1160 .14\\1161 .27\\1162 .12\\1163 .3\\1164 .12\\1165 .22\\1166 .1\\1167 .25\\1168 .1\\1169 .2\\1170 .1\\1171 .22\\1172 .1\\1173 .2\\1174 .1\\1175 .2\\1176 .09\\1177 .18\\1178.5 .08\\1180 .2\\1181.5 .08\\1183 .15\\1185 .07\\1187 .12\\1189 .06\\1191 .14\\1193 .06\\1195 .11\\1197 .06\\1200 .13\\1203 .06\\1205 .1\\1208 .06\\1210 .12\\1213 .06\\1215 .1\\1218 .06\\1220 .13\\1222.5 .08\\1225 .15\\1227 .06\\1230 .11\\1233 .06\\1235 .1\\1238 .06\\1240 .12\\1243 .06\\1245 .1\\1248 .06\\1250 .11\\1253 .06\\1255 .1\\1258 .06\\1260 .12\\1263 .06\\1265 .1\\1268 .06\\1270 .11\\1273 .06\\1275 .1\\1278 .06\\1280 .12\\1283 .06\\1285 .1\\1288 .06\\1290 .11\\1293 .06\\1295 .1\\1298 .06\\1300 .11\\1303 .06\\1305 .09\\1308 .06\\1310 .11\\1313 .06\\1315 .09\\1318 .06\\1320 .1\\1323 .06\\1325 .09\\1328 .06\\1330 .11\\1333 .06\\1335 .09\\1338 .06\\1340 .1\\1343 .06\\1345 .09\\1348 .06\\1350 .11\\1353 .06\\1355 .09\\1358 .06\\1360 .1\\1363 .06\\1365 .09\\1368 .06\\1370 .11\\1373 .06\\1375 .09\\1378 .06\\1380 .1\\1383 .06\\1385 .09\\1388 .06\\1390 .1\\1393 .06\\1395 .09\\1398 .06\\1400 .1\\1403 .06\\1405 .09\\1408 .06\\1410 .1\\1413 .06\\1415 .09\\1418 .06\\1420 .1\\1423 .06\\1425 .09\\1428 .06\\1430 .1\\1433 .06\\1435 .09\\1438 .06\\1440 .1\\1443 .06\\1445 .09\\1448 .06\\1452 .09\\}\dO
\pgfplotstableread[row sep=\\]{t a\\979 .08\\982 .11\\985 .06\\988 .1\\991 .06\\994 .1\\997 .06\\1000 .1\\1003 .06\\1006 .1\\1008 .07\\1010 .12\\1012 .07\\1014 .12\\1016 .07\\1018 .12\\1020 .07\\1023 .1\\1026 .06\\1029 .1\\1032 .06\\1035 .1\\1038 .06\\1041 .1\\1044 .06\\1047 .1\\1050 .06\\1053 .1\\1056 .06\\1059 .1\\1062 .06\\1065 .1\\1068 .06\\1071 .1\\1074 .06\\1077 .1\\1080 .06\\1083 .1\\1086 .06\\1089 .1\\1092 .06\\1095 .1\\1098 .06\\1101 .1\\1104 .06\\1107 .11\\1110 .06\\1113 .1\\1115 .12\\1117 .06\\1120 .1\\1123 .06\\1125 .1\\1127 .07\\1129 .12\\1130.5 .18\\1131.5 .1\\1132.3 .27\\1133 .15\\1133.7 .3\\1134.5 .12\\1135.3 .2\\1136.2 .09\\1137 .12\\1138 .08\\1139 .15\\1140 .07\\1141 .1\\1142.5 .06\\1144 .12\\1145.5 .06\\1147 .1\\1148 .07\\1149 .18\\1149.8 .1\\1150.5 .27\\1151.3 .12\\1152 .15\\1153 .08\\1154 .2\\1155 .1\\1156 .22\\1157 .1\\1158 .25\\1158.7 .12\\1159.3 .3\\1160 .12\\1161 .15\\1162 .07\\1163 .12\\1164.5 .07\\1166 .15\\1167.5 .07\\1169 .12\\1170.5 .07\\1172 .14\\1174 .07\\1176 .11\\1178 .07\\1180 .14\\1182 .07\\1184 .12\\1186 .07\\1188 .15\\1190 .07\\1192 .11\\1194 .07\\1196 .13\\1198 .07\\1200 .1\\1203 .07\\1205 .13\\1208 .07\\1210 .1\\1213 .07\\1215 .12\\1218 .07\\1220 .1\\1223 .07\\1225 .13\\1228 .07\\1230 .11\\1233 .07\\1235 .14\\1238 .07\\1240 .12\\1242 .08\\1244 .2\\1245 .12\\1246 .38\\1247 .15\\1248 .18\\1249.5 .08\\1251 .12\\1253 .07\\1255 .1\\1258 .07\\1260 .12\\1263 .07\\1265 .1\\1268 .07\\1270 .13\\1272 .08\\1273.5 .18\\1275 .1\\1276.5 .22\\1278 .12\\1279.5 .25\\1281 .12\\1282.5 .2\\1284 .12\\1285.5 .25\\1287 .13\\1288.5 .28\\1290 .15\\1291 .35\\1292 .2\\1292.8 .45\\1293.5 .7\\1294.2 .3\\1295 .45\\1295.8 .22\\1296.6 .4\\1297.4 .2\\1298.2 .3\\1299 .43\\1300 .18\\1301 .3\\1302 .15\\1303 .38\\1304 .15\\1305 .3\\1306 .12\\1307 .2\\1308.5 .1\\1310 .15\\1312 .08\\1314 .17\\1316 .08\\1318 .14\\1320 .08\\1322 .16\\1324 .08\\1326 .13\\1328 .08\\1330 .15\\1332 .08\\1334 .13\\1336 .08\\1338 .16\\1340 .08\\1342 .13\\1344 .08\\1346 .16\\1348 .09\\1350 .18\\1351.5 .1\\1353 .25\\1354.5 .12\\1356 .2\\1358 .09\\1360 .15\\1362 .08\\1364 .17\\1366 .08\\1368 .14\\1370 .08\\1372 .16\\1374 .08\\1376 .14\\1378 .08\\1380 .17\\1382 .08\\1384 .14\\1386 .08\\1388 .16\\1390 .08\\1392 .14\\1394 .08\\1396 .17\\1398 .08\\1400 .14\\1402 .08\\1404 .18\\1406 .09\\1408 .15\\1410 .08\\1412 .17\\1414 .08\\1416 .14\\1418 .08\\1420 .18\\1422 .09\\1424 .15\\1426 .08\\1428 .17\\1430 .08\\1432 .14\\1434 .08\\1436 .18\\1438 .09\\1440 .15\\1442 .08\\1444 .17\\1446 .09\\1448 .2\\1450 .1\\1452 .18\\}\dP
\pgfplotstableread[row sep=\\]{t a\\979 .06\\985 .07\\988 .06\\990 .1\\991 .06\\992 .12\\993 .06\\995 .07\\1000 .06\\1010 .07\\1020 .06\\1030 .07\\1040 .06\\1050 .07\\1060 .06\\1070 .07\\1080 .06\\1090 .07\\1100 .06\\1105 .08\\1110 .06\\1115 .08\\1120 .06\\1122 .1\\1123 .06\\1124 .1\\1125 .06\\1126 .12\\1127 .07\\1128 .1\\1129 .07\\1130 .12\\1131 .15\\1132 .08\\1133 .18\\1134 .1\\1135 .15\\1136 .08\\1137 .12\\1138 .07\\1139 .1\\1140 .07\\1141 .13\\1142 .07\\1143 .1\\1144 .07\\1145 .12\\1146 .07\\1147 .1\\1148 .08\\1149 .2\\1149.7 .35\\1150.3 .5\\1150.9 .72\\1151.5 .35\\1152.1 .5\\1152.8 .2\\1153.5 .3\\1154.3 .15\\1155.1 .22\\1156 .12\\1157 .25\\1158 .12\\1159 .18\\1160 .09\\1161 .13\\1162.5 .07\\1164 .1\\1166 .06\\1168 .12\\1170 .06\\1172 .09\\1174 .06\\1176 .1\\1178 .06\\1180 .08\\1190 .09\\1200 .08\\1210 .09\\1220 .08\\1230 .09\\1240 .08\\1250 .09\\1260 .08\\1270 .09\\1280 .08\\1290 .09\\1300 .08\\1310 .09\\1320 .08\\1330 .09\\1340 .08\\1350 .09\\1360 .08\\1370 .09\\1380 .08\\1390 .09\\1400 .08\\1410 .09\\1420 .08\\1430 .09\\1440 .08\\1452 .1\\}\dQ

\begin{document}
\fs
\begin{tikzpicture}
\path[use as bounding box] (0,0) rectangle (1368bp,792bp);
\node[align=center, font=\fontsize{10bp}{11.7bp}\selectfont] at (684bp,768bp) {M6.6 south of the Fiji Islands 2022-11-09 10:14:33.541000\\from the Raspberry Shake Network\\depth: 623.647 km, distance: 17266.0 km.};
\node[rotate=90, font=\fs] at (13.1bp,396bp) {Velocity [m/s]};
\node[anchor=west, inner sep=0pt, font=\fs] at (13.9bp,13.9bp) {Channel: EHZ, filter: "bandpass", freqmin=1.3, freqmax=2.3, corners=4};
\node[font=\fs] at (684bp,13.9bp) {Time since earthquake [s]};
\panel{1}{\dA}{.855}{2.5e-07}{R0B29 157.75° Kerdoualen}{}{1125.5}{1162.5}{.07}
\panel{2}{\dB}{.654}{1.0e+02}{R6C10 155.34° Helston}{1004.6}{1122.3}{1152.1}{.13}
\panel{3}{\dC}{.549}{5.0e-07}{RD884 155.33° Constantine}{1004.6}{1122.3}{1152.1}{.08}
\panel{4}{\dD}{.69}{1.0e-06}{R0B2D 155.31° Falmouth}{1004.6}{1122.3}{1152.0}{.04}
\panel{5}{\dE}{.505}{1.0e-06}{RB5E8 155.3° Penzance}{1004.5}{1122.3}{1151.9}{.05}
\panel{6}{\dF}{.84}{1.0e-06}{REE00 155.29° Penryn}{1004.4}{1122.3}{1151.9}{.04}
\panel{7}{\dG}{.68}{5.0e-07}{CCA1 155.26° Carnmenellis}{1004.3}{1122.2}{1151.8}{.05}
\panel{8}{\dH}{.671}{1.0e-06}{S4BA9 155.24° Playing Place}{1004.2}{1122.2}{1151.7}{.08}
\panel{9}{\dI}{.806}{1.0e-06}{RAD67 155.21° St Day}{1004.1}{1122.1}{1151.5}{.04}
\panel{10}{\dJ}{.68}{1.0e-05}{R7FA5 155.2° Truro School}{1004.0}{1122.1}{1151.5}{.015}
\panel{11}{\dK}{.658}{1.0e-06}{SDF0E 155.2° Station Road}{1004.0}{1122.1}{1151.5}{.04}
\panel{12}{\dL}{.68}{1.0e-06}{R0353 155.2° Penair}{1004.0}{1122.1}{1151.5}{.04}
\panel{13}{\dM}{.862}{5.0e-07}{DYA 155.1° Yadsworthy}{1003.7}{1122.0}{1151.1}{.05}
\panel{14}{\dN}{.625}{5.0e-07}{RA2AC 155.09° St Newlyn East}{1003.6}{1122.0}{1151.1}{.06}
\panel{15}{\dO}{.917}{1.0e-06}{RD232 155.04° Newquay}{1003.3}{1121.9}{1150.9}{.06}
\panel{16}{\dP}{.877}{2.0e-06}{R614C 154.87° Delabole 4D}{1002.3}{1121.8}{1150.2}{.07}
\pgfplotsset{panelextra/.style={xticklabels={1000,1100,1200,1300,1400}}}
\panel{17}{\dQ}{.893}{2.5e-07}{HTL 154.51° Hartland}{1000.9}{1121.3}{1148.8}{.06}
\end{tikzpicture}
\end{document}
